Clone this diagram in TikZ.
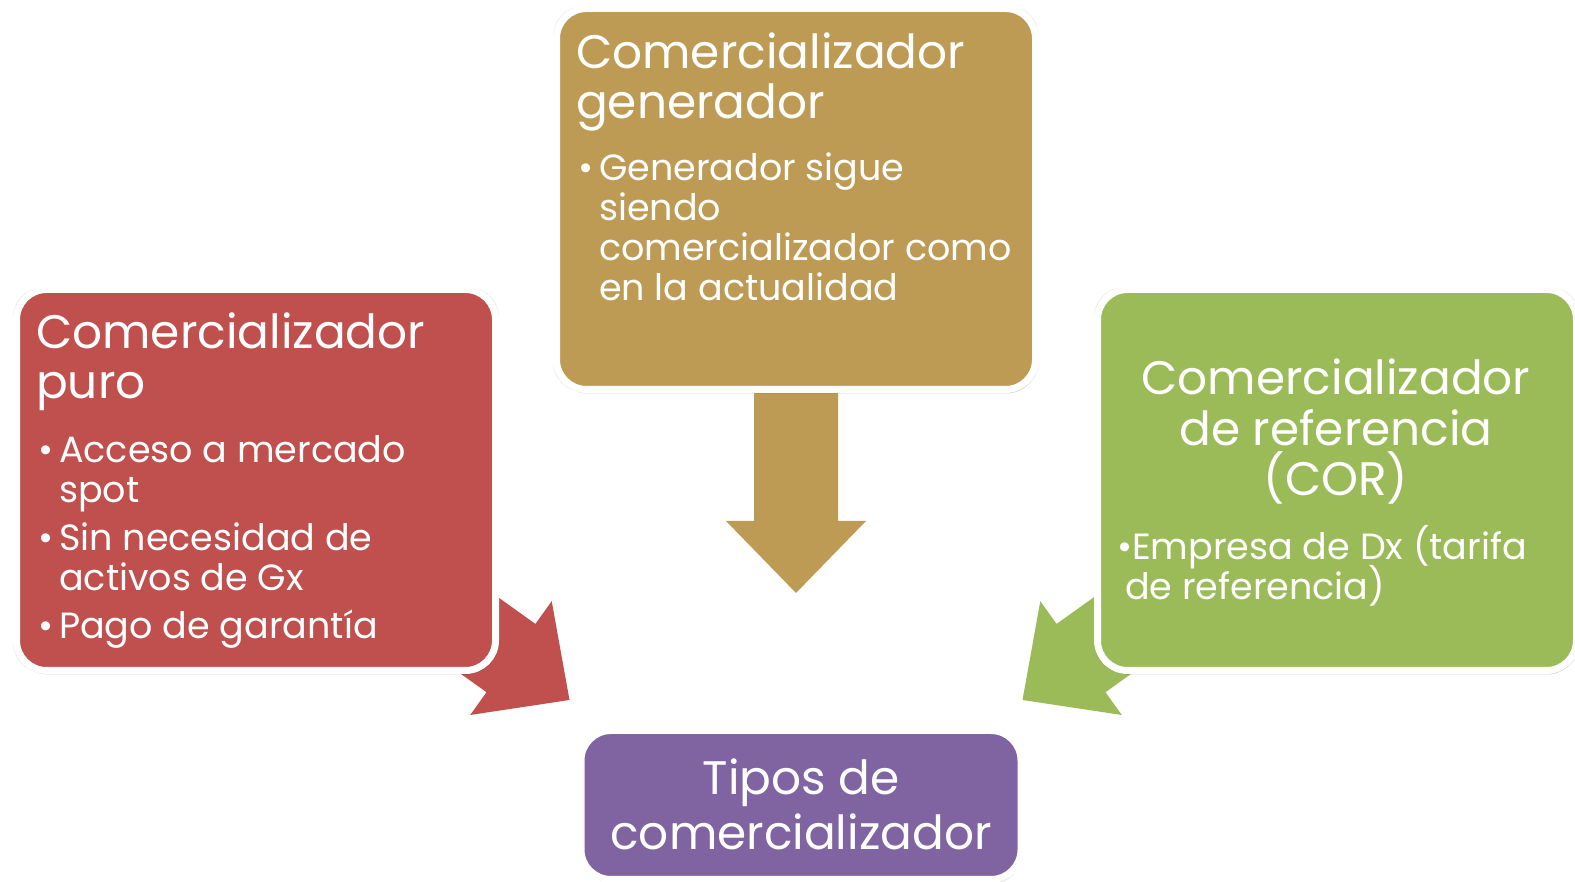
\documentclass[tikz,border=0pt]{standalone}
\usepackage{fontspec}
\setmainfont{Poppins}
\usepackage{xcolor}
\usepackage{tikz}
\usetikzlibrary{shadows}

\definecolor{redfill}{HTML}{C0504D}
\definecolor{goldfill}{HTML}{BE9B54}
\definecolor{greenfill}{HTML}{9BBB59}
\definecolor{purplefill}{HTML}{8064A2}

\newcommand{\ttl}{\fontsize{47}{50}\selectfont\spaceskip=0pt\xspaceskip=0pt}
\newcommand{\bfs}{\fontsize{36.5}{40}\selectfont\spaceskip=0pt\xspaceskip=0pt\lineskiplimit=-20pt}
\newcommand{\itm}[1]{{\bfs\hangindent=23pt\hangafter=1\noindent\makebox[23pt][l]{\hspace{2pt}\textbullet}#1\par}\vspace{8pt}}

\begin{document}
\begin{tikzpicture}[
    x=1pt, y=1pt,
    card/.style={rectangle, rounded corners=30pt, draw=white, line width=7pt, minimum width=479pt, minimum height=381pt,
        drop shadow={shadow xshift=0pt, shadow yshift=0pt, shadow scale=1.014, opacity=0.1, fill=black},
        drop shadow={shadow xshift=1pt, shadow yshift=-4pt, opacity=0.18, fill=black}},
    txt/.style={text=white, inner sep=0pt},
    blockarrow/.pic={\fill[pic actions] (0,0) -- (-72,70) -- (-72,42) -- (-230,42) -- (-230,-42) -- (-72,-42) -- (-72,-70) -- cycle;}
]
\useasboundingbox (0,0) rectangle (1575,882);

% Arrow tips
\coordinate (redtip) at (569.5,182);
\coordinate (goldtip) at (796,289);
\coordinate (greentip) at (1022.5,182);

% Arrows
\pic[fill=redfill, rotate=-35.6] at (redtip) {blockarrow};
\pic[fill=goldfill, rotate=-90] at (goldtip) {blockarrow};
\pic[fill=greenfill, rotate=-144.4] at (greentip) {blockarrow};

% Boxes
\node[card, fill=redfill] (redbox) at (256,402) {};
\node[card, fill=goldfill] (goldbox) at (796,683) {};
\node[card, fill=greenfill] (greenbox) at (1337,402) {};
\node[card, fill=purplefill, minimum width=440pt, minimum height=149pt] (purplebox) at (801,77) {};

% Texts
\node[txt, text width=460pt, align=left, anchor=north west] (redtxt) at (36,569) {%
    {\ttl Comercializador\newline puro\par}\vspace{24pt}%
    \itm{Acceso a mercado\newline spot}%
    \itm{Sin necesidad de\newline activos de Gx}%
    \itm{Pago de garantía}};

\node[txt, text width=460pt, align=left, anchor=north west] (goldtxt) at (576,849) {%
    {\ttl Comercializador\newline generador\par}\vspace{22pt}%
    \itm{Generador sigue\newline siendo\newline comercializador como\newline en la actualidad}};

\node[txt, align=center, font=\fontsize{47}{50.5}\selectfont, anchor=north] (greentitle) at (1336,523)
    {Comercializador\\de referencia\\(COR)};
\node[txt, text width=450pt, align=left, anchor=north west] (greentxt) at (1117,357) {%
    {\bfs\hangindent=8pt\hangafter=1\noindent\textbullet Empresa de Dx (tarifa\newline de referencia)\par}};

\node[txt, align=center, font=\fontsize{47}{55}\selectfont, anchor=north] (purpletxt) at (801,123)
    {Tipos de\\comercializador};

\end{tikzpicture}
\end{document}
